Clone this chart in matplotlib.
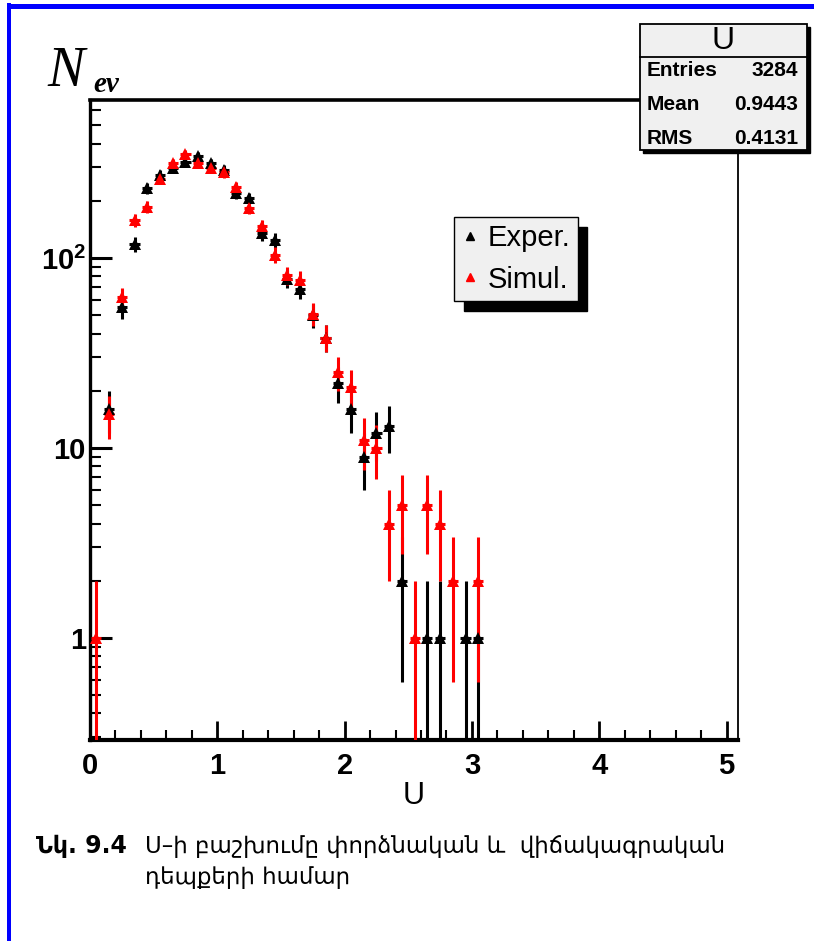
import numpy as np
import matplotlib
matplotlib.use("Agg")
import matplotlib.pyplot as plt
from matplotlib.lines import Line2D
from matplotlib.patches import Rectangle
from matplotlib.ticker import FixedLocator, FixedFormatter, NullFormatter

# bin centres of U (bin width 0.1)
u_centers = [0.05, 0.15, 0.25, 0.35, 0.45, 0.55, 0.65, 0.75, 0.85, 0.95,
             1.05, 1.15, 1.25, 1.35, 1.45, 1.55, 1.65, 1.75, 1.85, 1.95,
             2.05, 2.15, 2.25, 2.35, 2.45, 2.55, 2.65, 2.75, 2.85, 2.95, 3.05]
exper = [0, 16, 55, 118, 233, 273, 297, 321, 344, 315,
         290, 219, 206, 135, 124, 78, 69, 50, 38, 22,
         16, 9, 12, 13, 2, 0, 1, 1, 0, 1, 1]
simul = [1, 15, 62, 158, 186, 262, 315, 353, 315, 297,
         282, 237, 183, 147, 104, 81, 77, 51, 38, 25,
         21, 11, 10, 4, 5, 1, 5, 4, 2, 0, 2]

legend_labels = ["Exper.", "Simul."]
stat_names = ["Entries", "Mean", "RMS"]
stat_values = ["3284", "0.9443", "0.4131"]
x_ticks = [0, 1, 2, 3, 4, 5]
y_ticks = [1, 10, 100]
y_ticklabels = ["1", "10", r"$\mathbf{10^{2}}$"]

caption_head = "Նկ. 9.4"
caption_line1 = "U–ի բաշխումը փորձնական և  վիճակագրական"
caption_line2 = "դեպքերի համար"

NARROW = ["Liberation Sans Narrow", "Liberation Sans", "DejaVu Sans"]
plt.rcParams["font.family"] = NARROW
plt.rcParams["mathtext.fontset"] = "custom"
plt.rcParams["mathtext.rm"] = "Liberation Sans"
plt.rcParams["mathtext.bf"] = "Liberation Sans:bold"

W, H = 814, 941
fig = plt.figure(figsize=(W / 100, H / 100), dpi=100)


def fx(px):
    return px / W


def fy(py):
    return 1 - py / H


ax = fig.add_axes([fx(90), fy(740), fx(738) - fx(90), fy(100) - fy(740)])


def draw_series(y, color):
    pts = [(u, n) for u, n in zip(u_centers, y) if n > 0]
    xs = [p[0] for p in pts]
    n = np.array([p[1] for p in pts], float)
    err = np.sqrt(n)
    lo = np.minimum(err, n - 1e-4)
    ax.errorbar(xs, n, yerr=[lo, err], xerr=0.04, fmt="^", color=color,
                ms=8.5, mew=0, elinewidth=2.2, capsize=0, zorder=3)


draw_series(exper, "black")
draw_series(simul, "red")

ax.set_yscale("log")
ax.set_xlim(0, 5.09)
ax.set_ylim(0.29, 679)

ax.xaxis.set_major_locator(FixedLocator(x_ticks))
ax.xaxis.set_minor_locator(FixedLocator(np.arange(0.2, 5.05, 0.2)))
ax.yaxis.set_major_locator(FixedLocator(y_ticks))
ax.yaxis.set_major_formatter(FixedFormatter(y_ticklabels))
minor_y = [m * d for d in (0.1, 1, 10, 100) for m in range(2, 10)]
ax.yaxis.set_minor_locator(FixedLocator([v for v in minor_y if 0.29 < v < 679]))
ax.yaxis.set_minor_formatter(NullFormatter())

ax.tick_params(axis="both", which="both", direction="in", top=False, right=False)
ax.tick_params(axis="y", which="major", length=16, width=2.2, pad=3, labelsize=21)
ax.tick_params(axis="y", which="minor", length=8, width=1.5)
ax.tick_params(axis="x", which="major", length=14, width=2, pad=9, labelsize=21)
ax.tick_params(axis="x", which="minor", length=7, width=1.5)
for lab in ax.get_xticklabels() + ax.get_yticklabels():
    lab.set_fontweight("bold")

for side, lw in [("left", 2.4), ("bottom", 3), ("top", 2.6), ("right", 1.3)]:
    ax.spines[side].set_linewidth(lw)

ax.set_xlabel("U", fontsize=22, labelpad=0)

handles = [Line2D([], [], marker="^", ls="none", color="black", ms=6),
           Line2D([], [], marker="^", ls="none", color="red", ms=6)]
ax.legend(handles, legend_labels, loc="upper left", bbox_to_anchor=(0.562, 0.817),
          borderaxespad=0, frameon=True, fancybox=False, edgecolor="black",
          facecolor="#f0f0f0", framealpha=1,
          shadow={"ox": 7, "oy": -7, "facecolor": "black", "edgecolor": "black", "alpha": 1},
          prop={"family": "Liberation Sans", "size": 21},
          handlelength=0.6, handletextpad=0.3, borderpad=0.25, labelspacing=0.45)

# N_ev axis title
fig.text(fx(47), fy(86), "N", fontsize=40, family="Liberation Serif", style="italic")
fig.text(fx(93), fy(92), "ev", fontsize=21, family="Liberation Serif",
         style="italic", weight="bold")

# statistics box
fig.add_artist(Rectangle((fx(643), fy(153)), fx(807) - fx(640), fy(24) - fy(150),
                         transform=fig.transFigure, facecolor="black", edgecolor="black",
                         zorder=10))
fig.add_artist(Rectangle((fx(640), fy(150)), fx(807) - fx(640), fy(24) - fy(150),
                         transform=fig.transFigure, facecolor="#f0f0f0", edgecolor="black",
                         lw=1.3, zorder=11))
fig.add_artist(Line2D([fx(640), fx(807)], [fy(57), fy(57)], transform=fig.transFigure,
                      color="black", lw=1.3, zorder=12))
fig.text(fx(723), fy(41), "U", fontsize=23, ha="center", va="center", zorder=12)
for i, (name, val) in enumerate(zip(stat_names, stat_values)):
    yy = fy(71 + 33.5 * i)
    fig.text(fx(647), yy, name, fontsize=15, weight="bold", va="center", zorder=12)
    fig.text(fx(798), yy, val, fontsize=15, weight="bold", va="center", ha="right", zorder=12)

# blue border of the page
fig.add_artist(Rectangle((fx(7), fy(941)), fx(11) - fx(7), fy(3) - fy(941),
                         transform=fig.transFigure, facecolor="blue", edgecolor="none"))
fig.add_artist(Rectangle((fx(7), fy(9)), 1 - fx(7), fy(4) - fy(9),
                         transform=fig.transFigure, facecolor="blue", edgecolor="none"))

# caption
fig.text(fx(36), fy(853), caption_head, fontsize=17, weight="bold", family=["DejaVu Sans"])
fig.text(fx(145), fy(853), caption_line1, fontsize=16.5, family=["DejaVu Sans"])
fig.text(fx(145), fy(884), caption_line2, fontsize=16.5, family=["DejaVu Sans"])

fig.savefig("out.png", dpi=100)
